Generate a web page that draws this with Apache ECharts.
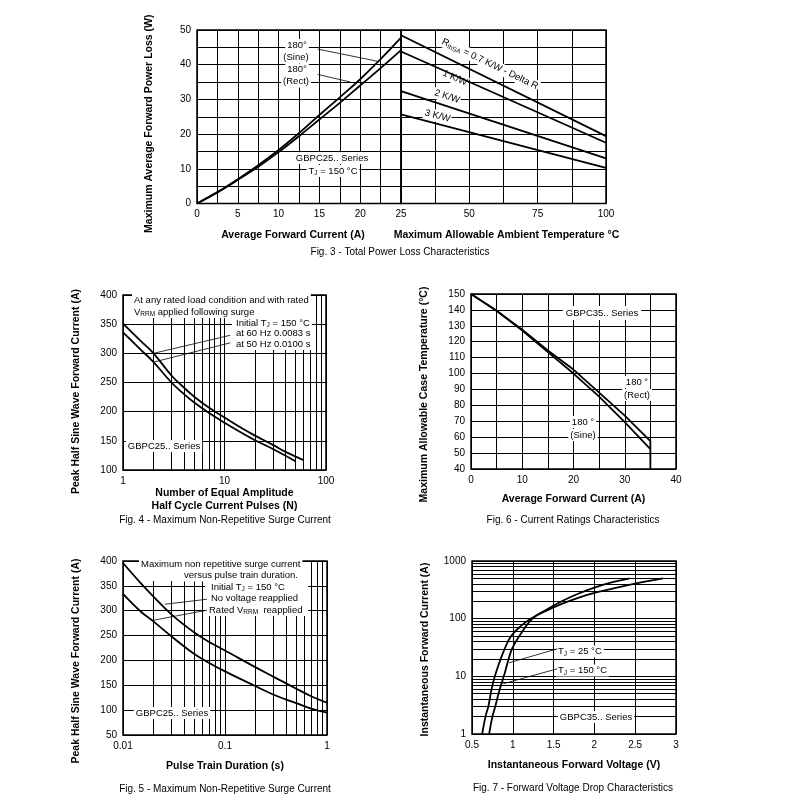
<!DOCTYPE html>
<html><head><meta charset="utf-8">
<script src="https://cdn.jsdelivr.net/npm/echarts@6.0.0/dist/echarts.min.js"></script>
<style>html,body{margin:0;padding:0;background:#fff}#c{width:800px;height:800px}</style>
</head><body><div id="c"></div>
<script>
// ---------- DATA ----------
// Fig. 3 left: power loss vs average forward current
const fig3Sine = [[0,0],[2.5,3.3],[5,7],[7.5,11],[10,15.4],[12.5,20.3],[15,25.5],[17.5,30.6],[20,35.8],[22.5,41.6],[25,47.8]];
const fig3Rect = [[0,0],[2.5,3.2],[5,6.8],[7.5,10.6],[10,14.8],[12.5,19.4],[15,24.2],[17.5,29],[20,34],[22.5,39],[25,44.2]];
// Fig. 3 right: power loss vs ambient temperature
const fig3R07 = [[25,48.5],[100,19.4]];
const fig3R1  = [[25,43.8],[100,17.5]];
const fig3R2  = [[25,32.4],[100,13.0]];
const fig3R3  = [[25,25.7],[100,10.3]];
// Fig. 4: surge current vs number of pulses
const fig4Upper = [[1,351],[1.5,321],[2,300],[3,262],[4,241],[5,226],[7,207],[10,190],[15,171],[20,159],[30,143],[40,131],[60,117]];
const fig4Lower = [[1,336],[1.5,306],[2,285],[3,250],[4,230],[5,216],[7,198],[10,181],[15,163],[20,151],[30,136],[50,115]];
// Fig. 6: case temperature vs current
const fig6Rect = [[0,150],[5,139.5],[10,127.5],[15,114.5],[20,102.5],[25,88],[30,73.5],[35,57.5],[35,40]];
const fig6Sine = [[0,150],[5,139.5],[10,127],[15,113.5],[20,100],[25,85.5],[30,69.5],[35,52.5]];
// Fig. 5: surge current vs pulse train duration
const fig5Upper = [[0.01,396],[0.015,355],[0.02,328],[0.03,292],[0.05,256],[0.07,237],[0.1,220],[0.2,186],[0.3,167],[0.5,143],[0.7,128],[1,115]];
const fig5Lower = [[0.01,334],[0.015,298],[0.02,278],[0.03,248],[0.05,213],[0.07,195],[0.1,178],[0.2,148],[0.3,131],[0.5,114],[0.7,103],[1,95]];
// Fig. 7: forward voltage drop
const fig7T25  = [[0.71,1],[0.75,2],[0.785,3],[0.84,6],[0.89,10],[0.94,18],[0.99,30],[1.08,50],[1.24,100],[1.4,140],[1.6,200],[1.8,270],[2.0,345],[2.2,420],[2.43,500]];
const fig7T150 = [[0.625,1],[0.665,2],[0.70,3],[0.74,6],[0.78,10],[0.84,18],[0.9,30],[0.98,50],[1.1,75],[1.22,100],[1.4,135],[1.6,180],[1.8,230],[2.0,280],[2.2,325],[2.5,405],[2.84,500]];
// log-axis minor grid positions
const fig4MinorX = [2,3,4,5,6,7,8,9,20,30,40,50,60,70,80,90];
const fig5MinorX = [0.02,0.03,0.04,0.05,0.06,0.07,0.08,0.09,0.2,0.3,0.4,0.5,0.6,0.7,0.8,0.9];
const fig7MinorY = [2,3,4,5,6,7,8,9,20,30,40,50,60,70,80,90,200,300,400,500,600,700,800,900];
// annotation leader lines (data units)
const fig3Leaders = [[[14.8,44.5],[22.1,41.0]],[[14.8,37.2],[18.8,35.0]]];
const fig4Leaders = [[[2,300],[11.4,331]],[[2,285],[11.4,318]]];
const fig5Leaders = [[[0.0257,313],[0.0665,323]],[[0.02,281],[0.0665,301]]];
const fig7Leaders = [[[0.957,17.2],[1.545,30]],[[0.884,7.45],[1.545,13.5]]];

// ---------- STYLE HELPERS ----------
const FF = '"Liberation Sans", Arial, sans-serif';
const lab = {color:'#000', fontSize:10, fontFamily:FF, margin:6};
const nameStyle = {color:'#000', fontSize:10.5, fontWeight:'bold', fontFamily:FF};
const split = {show:true, lineStyle:{color:'#000', width:1}};
function fmtEvery(step){ return v => (Math.abs(v/step - Math.round(v/step)) < 1e-6) ? String(+v.toPrecision(6)) : ''; }
function curve(data, xi, smooth){
  return {type:'line', data, xAxisIndex:xi, yAxisIndex:xi, showSymbol:false, symbol:'none',
    smooth: smooth===undefined?0.4:smooth, silent:true,
    lineStyle:{color:'#000', width:1.8}, z:5};
}
function leaders(list, xi){
  return list.map(seg => ({type:'line', data:seg, xAxisIndex:xi, yAxisIndex:xi, showSymbol:false, symbol:'none',
    silent:true, lineStyle:{color:'#000', width:0.8}, z:6}));
}
function minorSeries(xi, axisKey, vals){
  return {type:'line', data:[], xAxisIndex:xi, yAxisIndex:xi, silent:true, z:1,
    markLine:{silent:true, z:1, symbol:['none','none'], label:{show:false}, animation:false,
      lineStyle:{color:'#000', width:1, type:'solid'}, emphasis:{disabled:true},
      data: vals.map(v => ({[axisKey]: v}))}};
}
function gridOf(l,t,w,h){ return {left:l, top:t, width:w, height:h, show:true, borderColor:'#000', borderWidth:1.5, backgroundColor:'transparent', containLabel:false}; }
function vAxis(gi, o){
  return Object.assign({type:'value', gridIndex:gi, axisLine:{show:false}, axisTick:{show:false},
    splitLine:split, axisLabel:Object.assign({}, lab), nameTextStyle:nameStyle, nameLocation:'middle'}, o);
}
const ns = p => Object.assign({}, nameStyle, {padding:p});

// ---------- OPTION ----------
const option = {
  animation:false,
  backgroundColor:'#fff',
  grid:[
    gridOf(197,30,204,173.5),
    gridOf(401,30,205,173.5),
    gridOf(123,295,203,175),
    gridOf(471,294,205,175),
    gridOf(123,561,204,174),
    gridOf(472,561,204,173)
  ],
  xAxis:[
    vAxis(0,{min:0,max:25,interval:2.5, axisLabel:Object.assign({},lab,{formatter:fmtEvery(5)}),
      name:'Average Forward Current (A)', nameGap:26, nameTextStyle:ns([0,12,0,0])}),
    vAxis(1,{min:25,max:100,interval:12.5, axisLabel:Object.assign({},lab,{formatter:v=> (v%25===0 && v>25)?String(v):''}),
      name:'Maximum Allowable Ambient Temperature °C', nameGap:26, nameTextStyle:ns([0,0,0,6])}),
    vAxis(2,{type:'log', logBase:10, min:1, max:100, axisLabel:Object.assign({},lab,{formatter:v=>String(+v.toPrecision(6))}),
      name:'Number of Equal Amplitude\nHalf Cycle Current Pulses (N)', nameGap:13, nameTextStyle:Object.assign({},nameStyle,{lineHeight:12.5})}),
    vAxis(3,{min:0,max:40,interval:5, axisLabel:Object.assign({},lab,{formatter:fmtEvery(10)}),
      name:'Average Forward Current (A)', nameGap:25}),
    vAxis(4,{type:'log', logBase:10, min:0.01, max:1, axisLabel:Object.assign({},lab,{formatter:v=>String(+v.toPrecision(6))}),
      name:'Pulse Train Duration (s)', nameGap:26}),
    vAxis(5,{min:0.5,max:3,interval:0.5, axisLabel:Object.assign({},lab,{formatter:v=>String(+v.toPrecision(6))}),
      name:'Instantaneous Forward Voltage (V)', nameGap:26})
  ],
  yAxis:[
    vAxis(0,{min:0,max:50,interval:5, axisLabel:Object.assign({},lab,{formatter:fmtEvery(10)}),
      name:'Maximum Average Forward Power Loss (W)', nameGap:42, nameTextStyle:ns([0,14,0,0])}),
    vAxis(1,{min:0,max:50,interval:5, axisLabel:{show:false}}),
    vAxis(2,{min:100,max:400,interval:50, name:'Peak Half Sine Wave Forward Current (A)', nameGap:41, nameTextStyle:ns([0,18,0,0])}),
    vAxis(3,{min:40,max:150,interval:10, name:'Maximum Allowable Case Temperature (°C)', nameGap:41, nameTextStyle:ns([0,26,0,0])}),
    vAxis(4,{min:50,max:400,interval:50, name:'Peak Half Sine Wave Forward Current (A)', nameGap:41, nameTextStyle:ns([0,26,0,0])}),
    vAxis(5,{type:'log', logBase:10, min:1, max:1000, axisLabel:Object.assign({},lab,{formatter:v=>String(+v.toPrecision(6))}),
      name:'Instantaneous Forward Current (A)', nameGap:41, nameTextStyle:ns([0,4,0,0])})
  ],
  series:[
    minorSeries(2,'xAxis',fig4MinorX), minorSeries(4,'xAxis',fig5MinorX), minorSeries(5,'yAxis',fig7MinorY),
    curve(fig3Sine,0), curve(fig3Rect,0),
    curve(fig3R07,1,false), curve(fig3R1,1,false), curve(fig3R2,1,false), curve(fig3R3,1,false),
    curve(fig4Upper,2), curve(fig4Lower,2),
    curve(fig6Rect,3,false), curve(fig6Sine,3,false),
    curve(fig5Upper,4), curve(fig5Lower,4),
    curve(fig7T25,5), curve(fig7T150,5),
    ...leaders(fig3Leaders,0), ...leaders(fig4Leaders,2), ...leaders(fig5Leaders,4), ...leaders(fig7Leaders,5)
  ]
};

// ---------- ANNOTATIONS ----------
const rich = {
  a:{fontSize:9.5, fontFamily:FF, color:'#000', lineHeight:12},
  s:{fontSize:6.5, fontFamily:FF, color:'#000', verticalAlign:'bottom', lineHeight:8}
};
function T(x, y, text, o){
  o = o || {};
  return {type:'text', x, y, rotation:o.rot||0, z:3, silent:true,
    style:{text, rich, fill:'#000', font:(o.size||9.5)+'px '+FF,
      align:o.align||'center', verticalAlign:'middle',
      backgroundColor:o.bg===false?null:'#fff', padding:o.pad||[0,2]}};
}
const box = (x,y,w,h) => ({type:'rect', z:2, silent:true, shape:{x,y,width:w,height:h}, style:{fill:'#fff'}});
const cap = (x,y,t) => ({type:'text', x, y, z:3, silent:true,
  style:{text:t, fill:'#000', font:'10px '+FF, align:'center', verticalAlign:'middle'}});

option.graphic = [
  // Fig 3
  T(297,45,'{a|180°}'), T(296,57,'{a|(Sine)}'), T(297,69.5,'{a|180°}'), T(296,81.5,'{a|(Rect)}'),
  T(332,158,'{a|GBPC25.. Series}'), T(333,171,'{a|T}{s|J}{a| = 150 °C}'),
  T(490,64,'{a|R}{s|thSA}{a| = 0.7 K/W - Delta R}',{rot:-0.45, pad:[0,1]}),
  T(455,78,'{a|1 K/W}',{rot:-0.42, pad:[0,1]}),
  T(447,96.5,'{a|2 K/W}',{rot:-0.31, pad:[0,1]}),
  T(437.5,116,'{a|3 K/W}',{rot:-0.25, pad:[0,1]}),
  cap(400,252,'Fig. 3 - Total Power Loss Characteristics'),
  // Fig 4
  box(124,296,190,22), box(232,317,80,33),
  T(132,300,'{a|At any rated load condition and with rated}',{align:'left'}),
  T(132,312,'{a|V}{s|RRM}{a| applied following surge}',{align:'left'}),
  T(234,323,'{a|Initial T}{s|J}{a| = 150 °C}',{align:'left'}),
  T(234,333.5,'{a|at 60 Hz 0.0083 s}',{align:'left'}),
  T(234,344,'{a|at 50 Hz 0.0100 s}',{align:'left'}),
  T(164,446,'{a|GBPC25.. Series}'),
  cap(225,520,'Fig. 4 - Maximum Non-Repetitive Surge Current'),
  // Fig 6
  T(602,313,'{a|GBPC35.. Series}',{pad:[1,3]}),
  T(637,382,'{a|180 °}'), T(637,395,'{a|(Rect)}'),
  T(583,422,'{a|180 °}'), T(583,435,'{a|(Sine)}'),
  cap(573,520,'Fig. 6 - Current Ratings Characteristics'),
  // Fig 5
  box(137,562,168,19), box(205,581,103,35),
  T(139,564.5,'{a|Maximum non repetitive surge current}',{align:'left'}),
  T(300,575.5,'{a|versus pulse train duration.}',{align:'right'}),
  T(209,587,'{a|Initial T}{s|J}{a| = 150 °C}',{align:'left'}),
  T(209,598.5,'{a|No voltage reapplied}',{align:'left'}),
  T(207,610,'{a|Rated V}{s|RRM}{a|  reapplied}',{align:'left'}),
  T(172,713,'{a|GBPC25.. Series}'),
  cap(225,789,'Fig. 5 - Maximum Non-Repetitive Surge Current'),
  // Fig 7
  T(556,651.5,'{a|T}{s|J}{a| = 25 °C}',{align:'left'}),
  T(556,670.5,'{a|T}{s|J}{a| = 150 °C}',{align:'left'}),
  T(596,717,'{a|GBPC35.. Series}'),
  cap(573,788,'Fig. 7 - Forward Voltage Drop Characteristics')
];

const chart = echarts.init(document.getElementById('c'), null, {renderer:'canvas'});
chart.setOption(option);
</script>
</body></html>
